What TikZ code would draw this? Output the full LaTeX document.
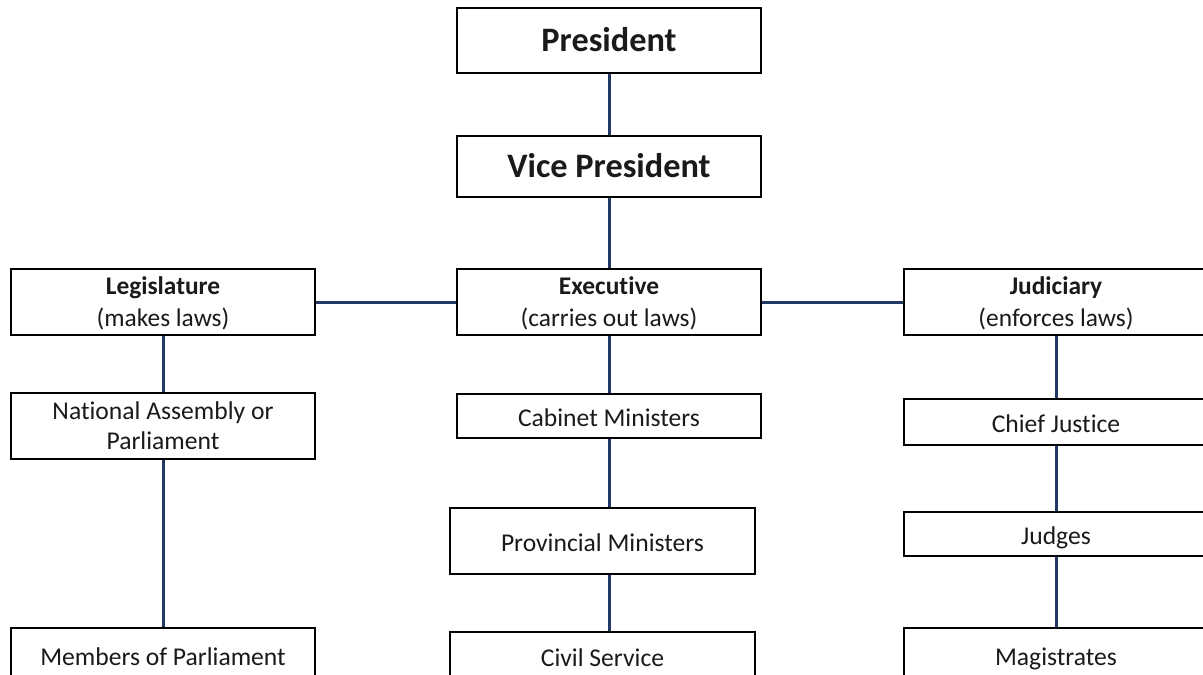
\documentclass[tikz,border=0pt]{standalone}
\usepackage{fontspec}
\setmainfont{Carlito}[Ligatures=NoCommon]
\definecolor{conn}{HTML}{1F3864}
\definecolor{ink}{HTML}{1A1A1A}
\begin{document}
\begin{tikzpicture}[x=1pt,y=-1pt,
  box/.style={draw=black,line width=1.6pt,fill=white,inner sep=0pt,align=center,minimum width=304pt,text=ink},
  big/.style={font=\fontsize{34.3}{40}\selectfont\bfseries,text height=24pt,text depth=2pt},
  head/.style={font=\fontsize{25.4}{32}\selectfont,text depth=1pt},
  small/.style={font=\fontsize{25.6}{30}\selectfont},
  one/.style={text height=20pt,text depth=0pt},
  link/.style={draw=conn,line width=3pt}]
\useasboundingbox (0,0) rectangle (1203,675);
\clip (0,0) rectangle (1203,675);
% nodes
\node[box,big,minimum height=65pt] (pres) at (609,40.5) {President};
\node[box,big,minimum height=61pt] (vp) at (609,166.5) {Vice President};
\node[box,head,minimum height=66pt] (leg) at (163,302) {\textbf{Legislature}\\(makes laws)};
\node[box,head,minimum height=66pt] (exe) at (609,302) {\textbf{Executive}\\(carries out laws)};
\node[box,head,minimum height=66pt] (jud) at (1056,302) {\textbf{Judiciary}\\(enforces laws)};
\node[box,small,minimum height=66pt] (na) at (163,426) {National Assembly or\\Parliament};
\node[box,small,one,minimum height=44pt] (cab) at (609,416) {Cabinet Ministers};
\node[box,small,one,minimum height=66pt,minimum width=305pt] (prov) at (602.5,541) {Provincial Ministers};
\node[box,small,one,minimum height=46pt] (cj) at (1056,422) {Chief Justice};
\node[box,small,one,minimum height=44pt] (judg) at (1056,534) {Judges};
\node[box,small,one,minimum height=54pt] (mem) at (163,655) {Members of Parliament};
\node[box,small,one,minimum height=48pt,minimum width=305pt] (civ) at (602.5,656) {Civil Service};
\node[box,small,one,minimum height=54pt] (mag) at (1056,655) {Magistrates};
% connectors
\path[link] (pres.south) -- (vp.north);
\path[link] (vp.south) -- (exe.north);
\path[link] (leg.east) -- (exe.west);
\path[link] (exe.east) -- (jud.west);
\path[link] (leg.south) -- (na.north);
\path[link] (na.south) -- (mem.north);
\path[link] (exe.south) -- (cab.north);
\path[link] (cab.south) -- (prov.north -| cab.south);
\path[link] (prov.south -| cab.south) -- (civ.north -| cab.south);
\path[link] (jud.south) -- (cj.north);
\path[link] (cj.south) -- (judg.north);
\path[link] (judg.south) -- (mag.north);
\end{tikzpicture}
\end{document}
